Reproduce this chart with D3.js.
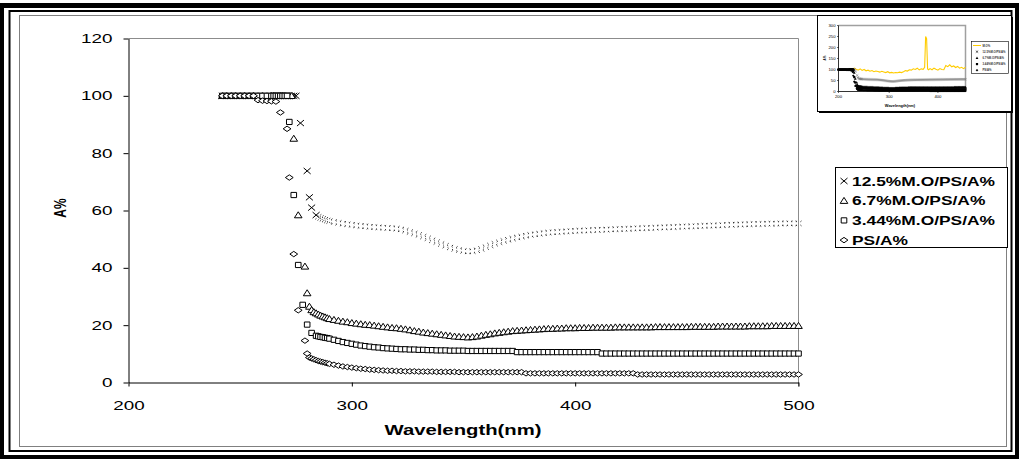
<!DOCTYPE html>
<html>
<head>
<meta charset="utf-8">
<script src="https://cdn.jsdelivr.net/npm/d3@7"></script>
<style>
html, body { margin: 0; padding: 0; background: #fff; }
svg { display: block; font-family: Arial, "Liberation Sans", sans-serif; }
</style>
</head>
<body>
<svg id="chart" width="1019" height="459"></svg>
<script>
// wavelength grid (nm), shared by the four measured series
var wave = [
    242, 244, 246, 248, 250, 252, 254, 256, 258, 260, 262, 264,
    265, 266, 267, 268, 269, 270, 271, 272, 273, 274, 275, 276, 277, 278, 279, 280, 281, 282, 283, 284, 285, 286, 287, 288, 289, 290,
    292, 294, 296, 298, 300, 302, 304, 306, 308, 310,
    312, 314, 316, 318, 320, 322, 324, 326, 328, 330,
    332, 334, 336, 338, 340, 342, 344, 346, 348, 350,
    352, 354, 356, 358, 360, 362, 364, 366, 368, 370,
    372, 374, 376, 378, 380, 382, 384, 386, 388, 390,
    392, 394, 396, 398, 400, 402, 404, 406, 408, 410,
    412, 414, 416, 418, 420, 422, 424, 426, 428, 430,
    432, 434, 436, 438, 440, 442, 444, 446, 448, 450,
    452, 454, 456, 458, 460, 462, 464, 466, 468, 470,
    472, 474, 476, 478, 480, 482, 484, 486, 488, 490,
    492, 494, 496, 498, 500
];

var seriesNames = ["12.5%M.O/PS/A%", "6.7%M.O/PS/A%", "3.44%M.O/PS/A%", "PS/A%"];

// 12.5%M.O/PS/A%  (A%)
var mo125 = [
    100, 100, 100, 100, 100, 100, 100, 100, 100, 100, 100, 100,
    100, 100, 100, 100, 100, 100, 100, 100, 100, 100, 100, null, 90.5, null, null, 73.8, 64.6, 61, null, 58.4, 57.8, 57.4, 57.1, 56.8, 56.5, 56.3,
    56.0, 55.7, 55.4, 55.2, 55.0, 54.8, 54.6, 54.5, 54.3, 54.2,
    54.1, 54.0, 53.9, 53.8, 53.7, 53.4, 53.0, 52.5, 52.0, 51.5,
    50.9, 50.3, 49.6, 49.0, 48.3, 47.7, 47.1, 46.6, 46.2, 45.9,
    45.7, 45.8, 46.1, 46.6, 47.2, 47.8, 48.4, 48.9, 49.4, 49.8,
    50.2, 50.6, 50.9, 51.2, 51.5, 51.7, 51.9, 52.1, 52.3, 52.4,
    52.5, 52.6, 52.7, 52.8, 52.9, 53.0, 53.0, 53.1, 53.2, 53.2,
    53.3, 53.3, 53.4, 53.5, 53.5, 53.6, 53.6, 53.7, 53.8, 53.8,
    53.9, 53.9, 54.0, 54.1, 54.1, 54.2, 54.2, 54.3, 54.4, 54.4,
    54.5, 54.5, 54.6, 54.7, 54.7, 54.8, 54.8, 54.9, 55.0, 55.0,
    55.1, 55.1, 55.2, 55.2, 55.3, 55.3, 55.3, 55.4, 55.4, 55.4,
    55.5, 55.5, 55.5, 55.5, 55.5
];

// 6.7%M.O/PS/A%
var mo67 = [
    100, 100, 100, 100, 100, 100, 100, 100, 100, 100, 100, 100,
    100, 100, 100, 100, 100, 100, 100, 100, 100, 85.1, null, 58.4, null, null, 40.5, 31.2, 26.5, 25.3, 24.6, 24.2, 23.8, 23.4, 23.1, 22.8, 22.5, 22.2,
    21.9, 21.6, 21.3, 21.1, 20.8, 20.6, 20.4, 20.2, 20.1, 19.9,
    19.7, 19.5, 19.3, 19.1, 19.0, 18.8, 18.6, 18.3, 18.0, 17.8,
    17.5, 17.3, 17.1, 16.9, 16.7, 16.5, 16.3, 16.1, 16.0, 15.9,
    15.8, 15.9, 16.1, 16.4, 16.7, 16.9, 17.2, 17.4, 17.6, 17.8,
    18.0, 18.1, 18.2, 18.3, 18.4, 18.5, 18.6, 18.7, 18.8, 18.8,
    18.9, 18.9, 19.0, 19.0, 19.0, 19.1, 19.1, 19.1, 19.2, 19.2,
    19.2, 19.2, 19.2, 19.3, 19.3, 19.3, 19.3, 19.3, 19.3, 19.3,
    19.3, 19.3, 19.4, 19.4, 19.4, 19.4, 19.4, 19.4, 19.4, 19.4,
    19.5, 19.5, 19.5, 19.5, 19.5, 19.5, 19.6, 19.6, 19.6, 19.6,
    19.6, 19.6, 19.6, 19.7, 19.7, 19.7, 19.7, 19.7, 19.8, 19.8,
    19.8, 19.8, 19.8, 19.8, 19.8
];

// 3.44%M.O/PS/A%
var mo344 = [
    100, 100, 100, 100, 100, 100, 100, 100, 100, 100, 100, 100,
    100, 100, 100, 100, 100, 100, 100, 90.9, null, 65.4, null, 41, null, 27.1, null, 20.2, null, 17.3, null, 16.3, 16.1, 15.9, 15.8, 15.6, 15.5, 15.3,
    14.9, 14.5, 14.1, 13.8, 13.5, 13.2, 12.9, 12.7, 12.5, 12.3,
    12.2, 12.0, 11.9, 11.8, 11.7, 11.6, 11.6, 11.5, 11.5, 11.4,
    11.4, 11.3, 11.3, 11.2, 11.2, 11.2, 11.1, 11.1, 11.1, 11.1,
    11.0, 11.0, 11.0, 11.0, 11.0, 11.0, 11.0, 11.0, 11.0, 11.0,
    11.0, 10.6, 10.6, 10.6, 10.6, 10.6, 10.6, 10.6, 10.6, 10.6,
    10.6, 10.6, 10.6, 10.6, 10.6, 10.6, 10.6, 10.6, 10.6, 10.6,
    10.1, 10.1, 10.1, 10.1, 10.1, 10.1, 10.1, 10.1, 10.1, 10.1,
    10.1, 10.1, 10.1, 10.1, 10.1, 10.1, 10.1, 10.1, 10.1, 10.1,
    10.1, 10.1, 10.1, 10.1, 10.1, 10.1, 10.1, 10.1, 10.1, 10.1,
    10.1, 10.1, 10.1, 10.1, 10.1, 10.1, 10.1, 10.1, 10.1, 10.1,
    10.1, 10.1, 10.1, 10.1, 10.1
];

// PS/A%
var psA = [
    100, 100, 100, 100, 100, 100, 100, 100, 98.5, 98.3, 98.2, 98.1,
    null, 98, null, 94.2, null, null, 88.5, 71.5, null, 44.8, null, 25.2, null, null, 14.6, 10.1, 8.7, 8.4, 8.1, 7.8, 7.5, 7.3, 7.1, 6.9, 6.7, 6.5,
    6.2, 5.9, 5.6, 5.4, 5.2, 5.0, 4.8, 4.7, 4.5, 4.4,
    4.3, 4.2, 4.1, 4.1, 4.0, 4.0, 3.9, 3.9, 3.9, 3.8,
    3.8, 3.8, 3.8, 3.7, 3.7, 3.7, 3.7, 3.7, 3.6, 3.6,
    3.6, 3.6, 3.6, 3.6, 3.6, 3.6, 3.6, 3.6, 3.6, 3.6,
    3.6, 3.6, 3.6, 3.2, 3.2, 3.2, 3.2, 3.2, 3.2, 3.2,
    3.2, 3.2, 3.2, 3.2, 3.2, 3.2, 3.2, 3.2, 3.2, 3.2,
    3.2, 3.2, 3.2, 3.2, 3.2, 3.2, 3.2, 3.2, 2.8, 2.8,
    2.8, 2.8, 2.8, 2.8, 2.8, 2.8, 2.8, 2.8, 2.8, 2.8,
    2.8, 2.8, 2.8, 2.8, 2.8, 2.8, 2.8, 2.8, 2.8, 2.8,
    2.8, 2.8, 2.8, 2.8, 2.8, 2.8, 2.8, 2.8, 2.8, 2.8,
    2.8, 2.8, 2.8, 2.8, 2.8
];

// M.O% (only in the small inset chart)
var moWave = [
    262, 266, 270, 274, 278, 282, 286, 290, 294, 298, 302, 306, 310, 314, 318, 322, 326, 330, 334, 338,
    342, 346, 350, 354, 358, 362, 366, 370, 374, 378, 382, 386, 390, 394, 398, 402, 406, 410, 414,
    417, 419, 421, 423, 425,
    428, 432, 436, 440, 444, 448, 452, 456, 460, 464, 468, 472, 476, 480, 484, 488, 492, 496, 500
];
var moVal = [
    100, 104, 99, 106, 101, 97, 103, 96, 100, 94, 97, 92, 95, 90, 93, 91, 88, 92, 89, 86,
    90, 85, 87, 84, 86, 85, 88, 86, 90, 95, 93, 99, 97, 103, 100, 106, 98, 103, 101,
    110, 250, 240, 102, 99,
    104, 99, 106, 101, 97, 104, 100, 99, 118, 113, 121, 112, 116, 109, 114, 106, 110, 104, 110
];

var xTicks = [200, 300, 400, 500];
var yTicks = [0, 20, 40, 60, 80, 100, 120];
var insetXTicks = [242, 345, 444];
var insetXLabels = ["200", "300", "400"];
var insetYTicks = [0, 50, 100, 150, 200, 250, 300];
var insetNames = ["M.O%", "12.5%M.O/PS/A%", "6.7%M.O/PS/A%", "3.44%M.O/PS/A%", "PS/A%"];

var SX = 1.45;      // the picture is stretched sideways, text too
var svg = d3.select("#chart");

// 外框
svg.append("rect").attr("x", 0).attr("y", 3).attr("width", 1019).attr("height", 456).attr("fill", "#000");
svg.append("rect").attr("x", 4).attr("y", 8).attr("width", 1011).attr("height", 447).attr("fill", "#fff");
svg.append("rect").attr("x", 9.5).attr("y", 11).attr("width", 1002).attr("height", 440)
    .attr("fill", "none").attr("stroke", "#000").attr("stroke-width", 2);
svg.append("rect").attr("x", 19.5).attr("y", 15.5).attr("width", 987).attr("height", 431)
    .attr("fill", "#fff").attr("stroke", "#808080");

function stretched(parent, px, py, str, size, weight, anchor, rot) {
    var g = parent.append("g")
        .attr("transform", "translate(" + px + "," + py + ") scale(" + SX + ",1)" + (rot ? " rotate(" + rot + ")" : ""));
    g.append("text")
        .attr("text-anchor", anchor || "start")
        .attr("font-size", size)
        .attr("font-weight", weight || "normal")
        .attr("fill", "#000")
        .text(str);
    return g;
}

// main chart
var x = d3.scaleLinear().domain([200, 500]).range([128.5, 798.5]);
var y = d3.scaleLinear().domain([0, 120]).range([382.5, 38.5]);

svg.append("path")
    .attr("d", "M" + x(200) + "," + y(120) + "H" + x(500) + "V" + (y(0) + 4))
    .attr("fill", "none").attr("stroke", "#8c8c8c");

var gy = svg.append("g").attr("transform", "translate(" + x(200) + ",0)")
    .call(d3.axisLeft(y).tickValues(yTicks).tickSize(5).tickSizeOuter(0).tickFormat(d3.format("d")));
gy.attr("font-family", null).attr("font-size", null);
gy.selectAll("text").attr("font-size", 13).attr("fill", "#000")
    .attr("x", -16 / SX).attr("transform", "scale(" + SX + ",1)");

var gx = svg.append("g").attr("transform", "translate(0," + y(0) + ")")
    .call(d3.axisBottom(x).tickValues(xTicks).tickSize(4).tickSizeOuter(0).tickFormat(d3.format("d")));
gx.attr("font-family", null).attr("font-size", null);
gx.selectAll("text").attr("font-size", 13).attr("fill", "#000")
    .attr("y", 28).attr("dy", 0).attr("transform", "scale(" + SX + ",1)");

stretched(svg, 463, 435, "Wavelength(nm)", 14, "bold", "middle");
stretched(svg, 66, 208, "A%", 12, "bold", "middle", -90);

// marker shapes
var shapes = {
    cross: "M-3.5,-3L3.5,3M-3.5,3L3.5,-3",
    smallCross: "M-3,-2.5L3,2.5M-3,2.5L3,-2.5",
    tri: "M0,-3.3L3.8,2.7L-3.8,2.7Z",
    sq: "M-2.8,-2.6H2.8V2.6H-2.8Z",
    dia: "M0,-2.7L3.9,0L0,2.7L-3.9,0Z"
};

var mainSeries = [
    {name: seriesNames[0], vals: mo125, shape: "cross"},
    {name: seriesNames[1], vals: mo67, shape: "tri"},
    {name: seriesNames[2], vals: mo344, shape: "sq"},
    {name: seriesNames[3], vals: psA, shape: "dia"}
];

function points(vals) {
    return wave.map(function (w, i) { return [w, vals[i]]; })
        .filter(function (d) { return d[1] !== null; });
}

mainSeries.forEach(function (s) {
    var sel = svg.append("g").selectAll("path")
        .data(points(s.vals))
        .enter()
        .append("path")
        .attr("transform", function (d) { return "translate(" + x(d[0]) + "," + y(d[1]) + ")"; });
    if (s.shape === "cross") {
        // the dense part of this series shows only the tips of the crosses
        sel.attr("d", function (d) { return d[0] > 284 ? shapes.smallCross : shapes.cross; })
            .attr("fill", "none")
            .attr("stroke", function (d) { return d[0] > 284 ? "#333" : "#000"; })
            .attr("stroke-dasharray", function (d) { return d[0] > 284 ? "1.4,5" : null; })
            .attr("stroke-width", 1);
    } else {
        sel.attr("d", shapes[s.shape])
            .attr("fill", "#fff")
            .attr("stroke", "#000")
            .attr("stroke-width", 1);
    }
});

// legend
var leg = svg.append("g");
leg.append("rect").attr("x", 835.5).attr("y", 167.5).attr("width", 172).attr("height", 80)
    .attr("fill", "#fff").attr("stroke", "#000");
mainSeries.forEach(function (s, i) {
    var ly = 181 + i * 19.7;
    leg.append("path").attr("transform", "translate(844," + ly + ")")
        .attr("d", shapes[s.shape])
        .attr("fill", s.shape === "cross" ? "none" : "#fff")
        .attr("stroke", "#000");
    stretched(leg, 852, ly + 4.5, s.name, 12, "bold", "start");
});

// inset chart
var ins = svg.append("g");
ins.append("rect").attr("x", 819).attr("y", 17).attr("width", 194).attr("height", 96).attr("fill", "#000");
ins.append("rect").attr("x", 817.5).attr("y", 15.5).attr("width", 194).attr("height", 96)
    .attr("fill", "#fff").attr("stroke", "#000");

var ix = d3.scaleLinear().domain([242, 500]).range([838.5, 965.5]);
var iy = d3.scaleLinear().domain([0, 300]).range([91.5, 25.5]);

ins.append("path")
    .attr("d", "M" + ix(242) + "," + iy(300) + "H" + ix(500) + "V" + iy(0))
    .attr("fill", "none").attr("stroke", "#a0a0a0").attr("stroke-width", 1.5);
ins.append("path")
    .attr("d", "M" + ix(242) + "," + iy(300) + "V" + iy(0) + "H" + ix(500))
    .attr("fill", "none").attr("stroke", "#000").attr("stroke-width", 0.8);

insetYTicks.forEach(function (t) {
    ins.append("line").attr("x1", ix(242) - 1.5).attr("x2", ix(242))
        .attr("y1", iy(t)).attr("y2", iy(t)).attr("stroke", "#000").attr("stroke-width", 0.6);
    stretched(ins, ix(242) - 3, iy(t) + 1, String(t), 2.9, "normal", "end");
});
insetXTicks.forEach(function (t, i) {
    ins.append("line").attr("x1", ix(t)).attr("x2", ix(t))
        .attr("y1", iy(0)).attr("y2", iy(0) + 1.5).attr("stroke", "#000").attr("stroke-width", 0.6);
    stretched(ins, ix(t), 98, insetXLabels[i], 2.9, "normal", "middle");
});
stretched(ins, 900, 107, "Wavelength(nm)", 2.7, "bold", "middle");
stretched(ins, 826, 58, "A%", 3, "bold", "middle", -90);

ins.append("path")
    .datum(moWave.map(function (w, i) { return [w, moVal[i]]; }))
    .attr("d", d3.line().x(function (d) { return ix(d[0]); }).y(function (d) { return iy(d[1]); }))
    .attr("fill", "none").attr("stroke", "#ffcc00").attr("stroke-width", 1.1);

var insetShapes = {
    cross: "M-1.2,-1L1.2,1M-1.2,1L1.2,-1",
    tri: "M0,-1.3L1.4,1L-1.4,1Z",
    sq: "M-1.1,-1.1H1.1V1.1H-1.1Z",
    dia: "M0,-1.3L1.3,0L0,1.3L-1.3,0Z"
};
mainSeries.forEach(function (s) {
    var sel = ins.append("g").selectAll("path")
        .data(points(s.vals))
        .enter()
        .append("path")
        .attr("transform", function (d) { return "translate(" + ix(d[0]) + "," + iy(d[1]) + ")"; })
        .attr("d", insetShapes[s.shape]);
    if (s.shape === "cross") {
        sel.attr("fill", "none").attr("stroke", "#777").attr("stroke-width", 0.5);
    } else {
        sel.attr("fill", "#000").attr("stroke", "none");
    }
});

// inset legend
ins.append("rect").attr("x", 971.5).attr("y", 41.5).attr("width", 37).attr("height", 32)
    .attr("fill", "#fff").attr("stroke", "#000").attr("stroke-width", 0.6);
insetNames.forEach(function (n, i) {
    var ly = 45.5 + i * 6.2;
    if (i === 0) {
        ins.append("line").attr("x1", 973).attr("x2", 981).attr("y1", ly).attr("y2", ly)
            .attr("stroke", "#ffcc00").attr("stroke-width", 1);
    } else {
        var s = mainSeries[i - 1];
        ins.append("path").attr("transform", "translate(977," + ly + ")")
            .attr("d", insetShapes[s.shape])
            .attr("fill", s.shape === "cross" ? "none" : "#000")
            .attr("stroke", s.shape === "cross" ? "#000" : "none")
            .attr("stroke-width", 0.6);
    }
    ins.append("text").attr("x", 982.5).attr("y", ly + 1)
        .attr("font-size", 2.8).attr("font-weight", "bold").attr("fill", "#333").text(n);
});
</script>
</body>
</html>
